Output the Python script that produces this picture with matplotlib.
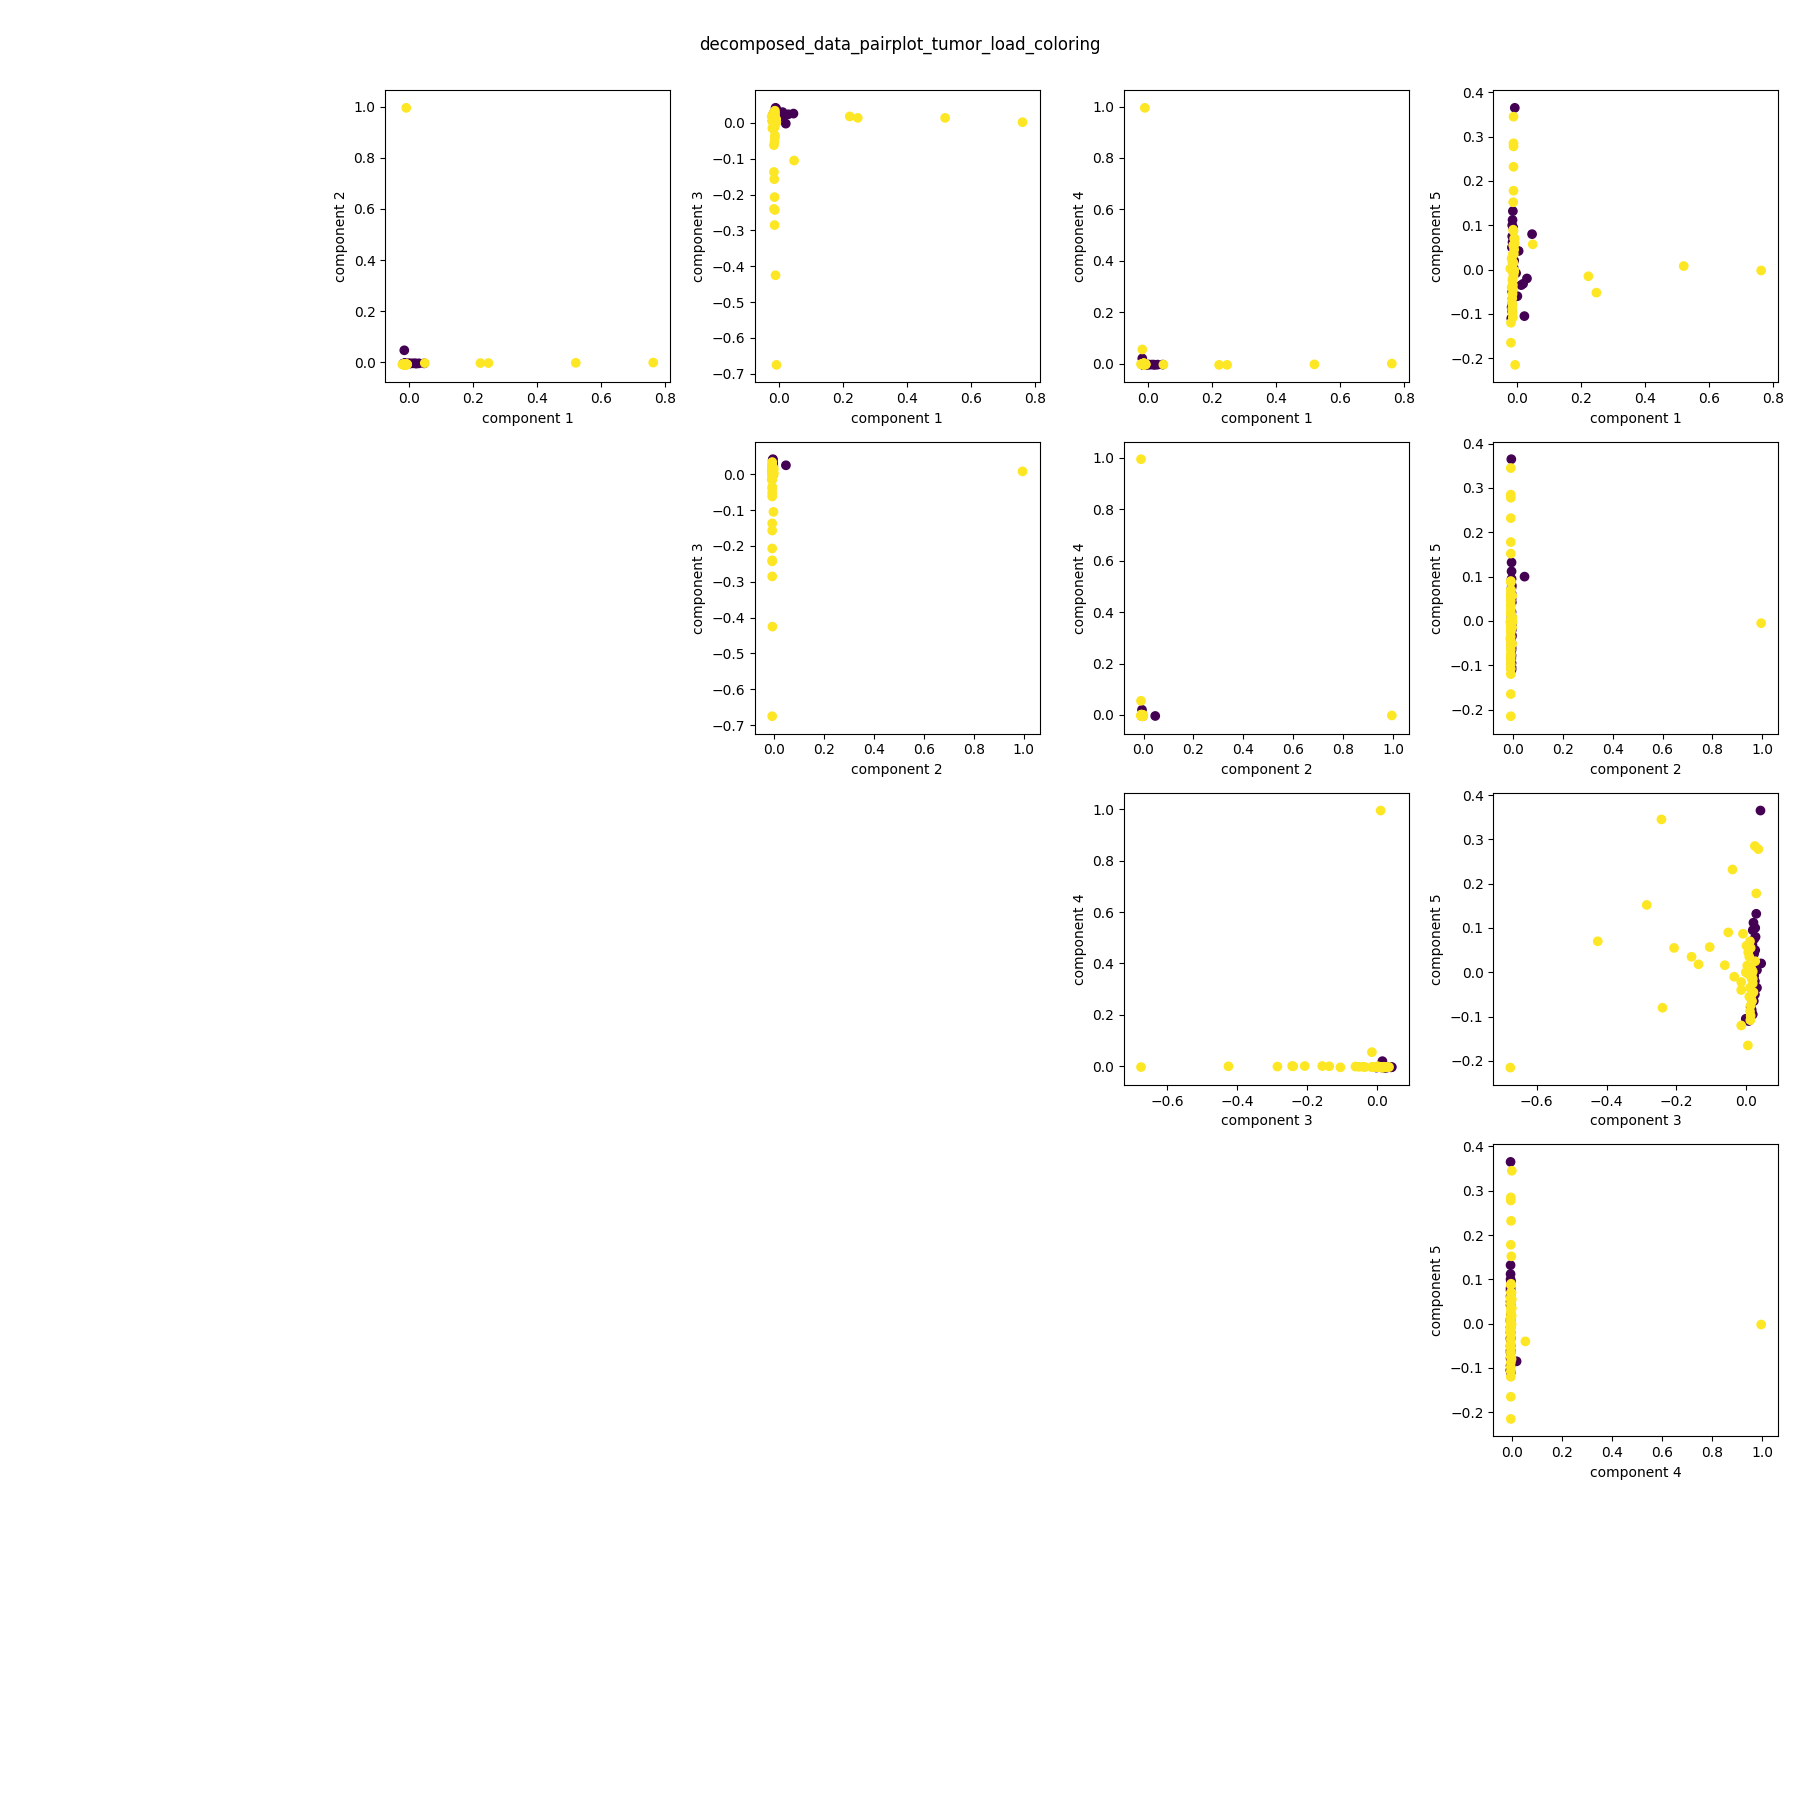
import matplotlib
matplotlib.use('Agg')
import matplotlib.pyplot as plt
import numpy as np

# decomposed components, one list per component (purple = 0, yellow = 1)
comp1 = [-0.008, -0.016, 0.046, -0.014, -0.015, -0.013, 0.004, 0.022, 0.030, 0.018,
         0.012, -0.004, -0.018, -0.019, -0.010, -0.016, -0.015, -0.017, -0.014, -0.016,
         -0.015, -0.017, -0.016, -0.012, 0.000,
         -0.010, -0.010, 0.222, 0.247, 0.520, 0.762, 0.048, -0.018, -0.007, -0.010,
         -0.013, -0.012, -0.015, -0.013, -0.014, -0.015, -0.015, -0.013, -0.012, -0.012,
         -0.020, -0.015, -0.012, -0.012, -0.012, -0.020, -0.012, -0.010, -0.008, -0.010,
         -0.011, -0.012, -0.013, -0.014, -0.015, -0.014, -0.013, -0.015, -0.016, -0.017,
         -0.016, -0.015, -0.014, -0.022, -0.018, -0.008, -0.012]
comp2 = [-0.006, 0.047, -0.004, -0.005, -0.005, -0.005, -0.004, -0.005, -0.004, -0.004,
         -0.004, -0.004, -0.006, -0.005, -0.005, -0.005, -0.005, -0.005, -0.005, -0.005,
         -0.005, -0.005, -0.005, -0.005, -0.005,
         0.995, -0.010, -0.003, -0.003, -0.002, -0.001, -0.003, -0.010, -0.008, -0.007,
         -0.008, -0.008, -0.008, -0.008, -0.008, -0.008, -0.008, -0.008, -0.008, -0.008,
         -0.008, -0.008, -0.008, -0.008, -0.008, -0.008, -0.008, -0.008, -0.008, -0.008,
         -0.008, -0.008, -0.008, -0.008, -0.008, -0.008, -0.008, -0.008, -0.008, -0.008,
         -0.008, -0.008, -0.008, -0.008, -0.008, -0.008, -0.008]
comp3 = [0.040, 0.025, 0.026, 0.028, 0.020, 0.018, 0.022, -0.002, 0.024, 0.020,
         0.030, 0.022, 0.015, 0.006, 0.042, 0.022, 0.017, 0.025, 0.019, 0.024,
         0.021, 0.012, 0.018, 0.030, 0.015,
         0.008, 0.010, 0.018, 0.014, 0.014, 0.002, -0.105, -0.015, -0.675, -0.425,
         -0.285, -0.243, -0.240, -0.207, -0.157, -0.137, -0.062, -0.052, -0.040, -0.010,
         -0.015, -0.015, 0.024, 0.034, 0.028, 0.004, -0.035, 0.005, 0.010, 0.012,
         0.008, 0.002, -0.002, 0.015, 0.018, 0.010, 0.020, 0.008, 0.016, 0.012,
         0.010, 0.012, 0.011, 0.018, 0.025, 0.000, 0.015]
comp4 = [-0.004, -0.004, -0.004, -0.004, -0.004, -0.002, -0.004, -0.005, -0.004, -0.004,
         -0.004, -0.004, 0.020, -0.003, -0.003, -0.004, -0.004, -0.004, -0.004, -0.004,
         -0.004, -0.004, -0.004, -0.004, -0.004,
         -0.002, 0.995, -0.005, -0.005, -0.003, 0.000, -0.004, 0.055, -0.003, 0.000,
         -0.001, 0.001, 0.000, 0.001, 0.001, 0.000, -0.001, -0.002, -0.002, -0.003,
         -0.003, -0.003, -0.003, -0.003, -0.003, -0.003, -0.003, -0.003, -0.003, -0.003,
         -0.003, -0.003, -0.003, -0.003, -0.003, -0.003, -0.003, -0.003, -0.003, -0.003,
         -0.003, -0.003, -0.003, -0.002, -0.003, -0.002, -0.004]
comp5 = [0.365, 0.100, 0.080, 0.132, 0.112, 0.095, 0.042, -0.105, -0.020, -0.032,
         -0.035, -0.008, -0.085, -0.110, 0.020, 0.075, 0.062, 0.050, 0.010, -0.050,
         -0.065, -0.078, -0.095, 0.005, -0.060,
         -0.005, -0.002, -0.015, -0.052, 0.008, -0.002, 0.057, -0.040, -0.215, 0.070,
         0.152, 0.345, -0.080, 0.055, 0.035, 0.018, 0.016, 0.090, 0.232, 0.087,
         -0.120, -0.022, 0.285, 0.278, 0.178, -0.165, -0.010, 0.045, 0.070, 0.055,
         0.035, 0.015, 0.000, -0.005, -0.025, -0.035, -0.045, -0.055, -0.065, -0.075,
         -0.088, -0.098, -0.108, 0.002, 0.025, 0.060, -0.015]
tumor_load = [0] * 25 + [1] * 47

data = np.array([comp1, comp2, comp3, comp4, comp5]).T
n = data.shape[1]

fig, axes = plt.subplots(n, n, figsize=(18, 18))
fig.subplots_adjust(left=0.0089, right=0.9879, top=0.9498, bottom=0.0068,
                    wspace=0.296, hspace=0.2033)

for r in range(n):
    for c in range(n):
        axes[r][c].axis('off')

# upper triangle: x = component i, y = component j
for i in range(n - 1):
    for j in range(i + 1, n):
        ax = axes[i][j]
        ax.axis('on')
        ax.scatter(data[:, i], data[:, j], c=tumor_load, cmap='viridis')
        ax.margins(0.068)
        ax.set_xlabel('component ' + str(i + 1))
        ax.set_ylabel('component ' + str(j + 1))

fig.suptitle('decomposed_data_pairplot_tumor_load_coloring')
plt.savefig('out.png', dpi=100)
